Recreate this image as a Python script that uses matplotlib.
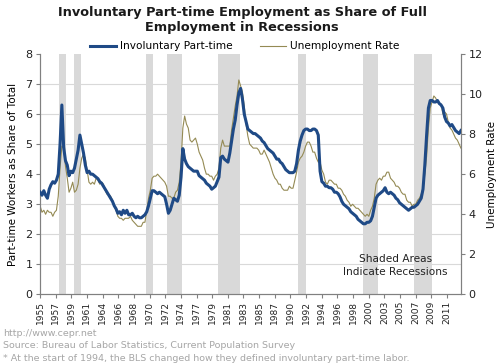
import numpy as np
import matplotlib
matplotlib.use('Agg')
import matplotlib.pyplot as plt
from matplotlib.ticker import MultipleLocator

# quarterly values, 1955 Q2 .. 2013 Q3
involuntary_pt = [
    3.4, 3.3, 3.45,
    3.3, 3.2, 3.5, 3.65,
    3.75, 3.7, 3.8, 4.0,
    5.0, 6.3, 4.9, 4.45,
    4.3, 3.95, 4.1, 4.05,
    4.2, 4.5, 4.8, 5.3,
    5.0, 4.7, 4.3, 4.05,
    4.1, 4.0, 4.0, 3.95,
    3.9, 3.85, 3.75, 3.7,
    3.6, 3.5, 3.4, 3.3,
    3.2, 3.1, 2.95, 2.85,
    2.7, 2.75, 2.65, 2.8,
    2.7, 2.8, 2.65, 2.65,
    2.7, 2.6, 2.55, 2.6,
    2.55, 2.55, 2.6, 2.65,
    2.75, 2.95, 3.2, 3.45,
    3.45, 3.4, 3.35, 3.4,
    3.35, 3.3, 3.25, 3.0,
    2.7, 2.8, 3.0, 3.2,
    3.15, 3.1, 3.3, 3.9,
    4.85, 4.5, 4.35, 4.25,
    4.2, 4.15, 4.1, 4.1,
    4.1, 3.95, 3.9, 3.85,
    3.8, 3.7, 3.65, 3.6,
    3.5, 3.55, 3.6, 3.75,
    3.9, 4.55, 4.6, 4.5,
    4.45, 4.4, 4.7, 5.1,
    5.5, 5.8, 6.3, 6.7,
    6.85, 6.5, 6.0, 5.75,
    5.5, 5.45, 5.4, 5.35,
    5.35, 5.3, 5.25, 5.2,
    5.1, 5.05, 4.95, 4.85,
    4.8, 4.75, 4.7, 4.6,
    4.5, 4.5, 4.4, 4.35,
    4.25, 4.15, 4.1, 4.05,
    4.05, 4.05, 4.1, 4.35,
    4.8, 5.1, 5.3, 5.45,
    5.5, 5.5, 5.45, 5.45,
    5.5, 5.5, 5.45, 5.3,
    4.1, 3.75, 3.7, 3.6,
    3.6, 3.55, 3.55, 3.5,
    3.4, 3.4, 3.35, 3.25,
    3.1, 3.0, 2.95, 2.9,
    2.85, 2.75, 2.7, 2.65,
    2.6, 2.5, 2.45, 2.4,
    2.35, 2.35, 2.4, 2.4,
    2.45, 2.6, 2.9, 3.2,
    3.3, 3.35, 3.4, 3.45,
    3.55, 3.4, 3.35, 3.4,
    3.35, 3.3, 3.2, 3.15,
    3.05, 3.0, 2.95, 2.9,
    2.85, 2.8, 2.85, 2.9,
    2.9, 2.95, 3.0, 3.1,
    3.2, 3.5, 4.3, 5.3,
    6.2, 6.45, 6.45, 6.4,
    6.4, 6.45, 6.35, 6.3,
    6.2, 5.9, 5.75, 5.7,
    5.6, 5.65, 5.55, 5.45,
    5.4, 5.35, 5.45,
]

unemployment = [
    4.4, 4.1, 4.2,
    4.0, 4.2, 4.1, 4.1,
    3.9, 4.1, 4.2, 4.9,
    6.3, 7.4, 7.3, 6.4,
    5.8, 5.1, 5.3, 5.6,
    5.1, 5.2, 5.5, 6.3,
    6.8, 7.0, 6.8, 6.2,
    5.6, 5.5, 5.6, 5.5,
    5.8, 5.7, 5.5, 5.6,
    5.5, 5.2, 5.0, 5.0,
    4.9, 4.7, 4.4, 4.2,
    3.9, 3.8, 3.8, 3.7,
    3.8, 3.8, 3.8, 3.9,
    3.7, 3.6, 3.5, 3.4,
    3.4, 3.4, 3.6, 3.6,
    4.2, 4.8, 5.2, 5.8,
    5.9, 5.9, 6.0, 5.9,
    5.8, 5.7, 5.6, 5.4,
    4.9, 4.9, 4.8, 4.8,
    5.1, 5.2, 5.6, 6.6,
    8.3, 8.9, 8.5, 8.3,
    7.7, 7.6, 7.7, 7.8,
    7.5, 7.1, 6.9, 6.7,
    6.3, 6.0, 6.0, 5.9,
    5.9, 5.7, 5.9, 6.0,
    6.3, 7.3, 7.7, 7.4,
    7.4, 7.4, 7.4, 8.2,
    8.8, 9.4, 9.9, 10.7,
    10.4, 10.1, 9.4, 8.5,
    7.9, 7.5, 7.4, 7.3,
    7.3, 7.3, 7.2, 7.0,
    7.0, 7.2, 7.0, 6.8,
    6.6, 6.3, 6.0, 5.8,
    5.7, 5.5, 5.5, 5.3,
    5.2, 5.2, 5.2, 5.4,
    5.3, 5.3, 5.7, 6.1,
    6.6, 6.8, 6.9, 7.1,
    7.4, 7.6, 7.6, 7.4,
    7.1, 7.1, 6.8, 6.6,
    6.6, 6.2, 6.0, 5.6,
    5.5, 5.7, 5.7, 5.6,
    5.5, 5.5, 5.3, 5.3,
    5.2, 5.0, 4.9, 4.7,
    4.6, 4.4, 4.5, 4.4,
    4.3, 4.3, 4.2, 4.1,
    4.0, 3.9, 4.0, 3.9,
    4.2, 4.4, 4.8, 5.5,
    5.7, 5.8, 5.7, 5.9,
    5.9, 6.1, 6.1, 5.8,
    5.7, 5.6, 5.4, 5.4,
    5.3, 5.1, 5.0, 5.0,
    4.7, 4.6, 4.6, 4.4,
    4.5, 4.5, 4.7, 4.8,
    5.0, 5.3, 6.0, 6.9,
    8.3, 9.3, 9.6, 9.9,
    9.8, 9.6, 9.5, 9.5,
    9.0, 9.1, 9.0, 8.6,
    8.3, 8.2, 8.0, 7.8,
    7.7, 7.5, 7.3,
]

tick_labels = ['1955', '1957', '1959', '1961', '1964', '1966', '1968', '1970',
               '1972', '1974', '1977', '1979', '1981', '1983', '1985', '1987',
               '1990', '1992', '1994', '1996', '1998', '2000', '2003', '2005',
               '2007', '2009', '2011']

rec_start = [1958.0, 1960.0, 1970.0, 1973.0, 1980.0, 1991.0, 2000.0, 2007.1]
rec_end = [1959.0, 1961.05, 1971.0, 1975.05, 1983.05, 1992.15, 2002.1, 2009.6]

x = 1955.375 + 0.25 * np.arange(len(involuntary_pt))
x_start, x_end = 1955.35, 2013.63

BLUE = '#1F4A86'
TAN = '#948A54'
GRAY = '#808080'

fig = plt.figure(figsize=(4.97, 3.64), dpi=100)
ax2 = fig.add_axes([0.0805, 0.191, 0.847, 0.661])
ax = ax2.twinx()
ax.set_zorder(ax2.get_zorder() + 1)
ax.patch.set_visible(False)

# right axis (back): shading, grid, unemployment rate
for s, e in zip(rec_start, rec_end):
    ax2.axvspan(s, e, color='#D9D9D9', lw=0, zorder=0)
ax2.plot(x, unemployment, color=TAN, lw=0.8, zorder=2)
ax2.set_ylim(0, 12)
ax2.yaxis.set_major_locator(MultipleLocator(2))
ax2.yaxis.set_minor_locator(MultipleLocator(1.5))
ax2.grid(which='minor', axis='y', color='#D9D9D9', lw=0.8, zorder=1)
ax2.yaxis.tick_right()
ax2.yaxis.set_label_position('right')
ax2.set_ylabel('Unemployment Rate', fontsize=7.5, labelpad=3)
ax2.tick_params(axis='y', which='minor', length=0)

# left axis (front): involuntary part-time
ax.plot(x, involuntary_pt, color=BLUE, lw=2.2, zorder=3)
ax.set_ylim(0, 8)
ax.yaxis.set_major_locator(MultipleLocator(1))
ax.yaxis.tick_left()
ax.yaxis.set_label_position('left')
ax.set_ylabel('Part-time Workers as Share of Total', fontsize=7.5, labelpad=5)

ax2.set_xlim(x_start, x_end)
ticks = x_start + np.arange(len(tick_labels)) * 26 / 12
ax2.set_xticks(ticks)
ax2.set_xticklabels(tick_labels, rotation=90)

for a in (ax, ax2):
    a.spines['top'].set_visible(False)
    for sp in ('left', 'right', 'bottom'):
        a.spines[sp].set_color(GRAY)
        a.spines[sp].set_linewidth(0.8)
    a.tick_params(colors=GRAY, labelcolor='#222222', length=3, width=0.8,
                  labelsize=8, pad=2.5)
ax2.tick_params(axis='x', labelsize=6.6, pad=1.5)

fig.text(0.487, 0.945, 'Involuntary Part-time Employment as Share of Full\nEmployment in Recessions',
         ha='center', va='center', fontsize=9.3, fontweight='bold', color='#1a1a1a',
         linespacing=1.12)

h1, = ax.plot([], [], color=BLUE, lw=2.2)
h2, = ax.plot([], [], color=TAN, lw=0.8)
fig.legend([h1, h2], ['Involuntary Part-time', 'Unemployment Rate'],
           loc='center', bbox_to_anchor=(0.492, 0.873), ncol=2, frameon=False,
           fontsize=7.6, handlelength=2.5, handletextpad=0.35, columnspacing=2.6)

ax.text(0.845, 0.12, 'Shaded Areas\nIndicate Recessions', transform=ax.transAxes,
        ha='center', va='center', fontsize=7.6, color='#222222', linespacing=1.3)

foot = ['http://www.cepr.net',
        'Source: Bureau of Labor Statistics, Current Population Survey',
        '* At the start of 1994, the BLS changed how they defined involuntary part-time labor.']
for i, t in enumerate(foot):
    fig.text(0.006, 1 - (333.5 + 12.5 * i) / 364, t, fontsize=6.8, color='#A6A6A6',
             ha='left', va='center')

fig.savefig('out.png', dpi=100)
